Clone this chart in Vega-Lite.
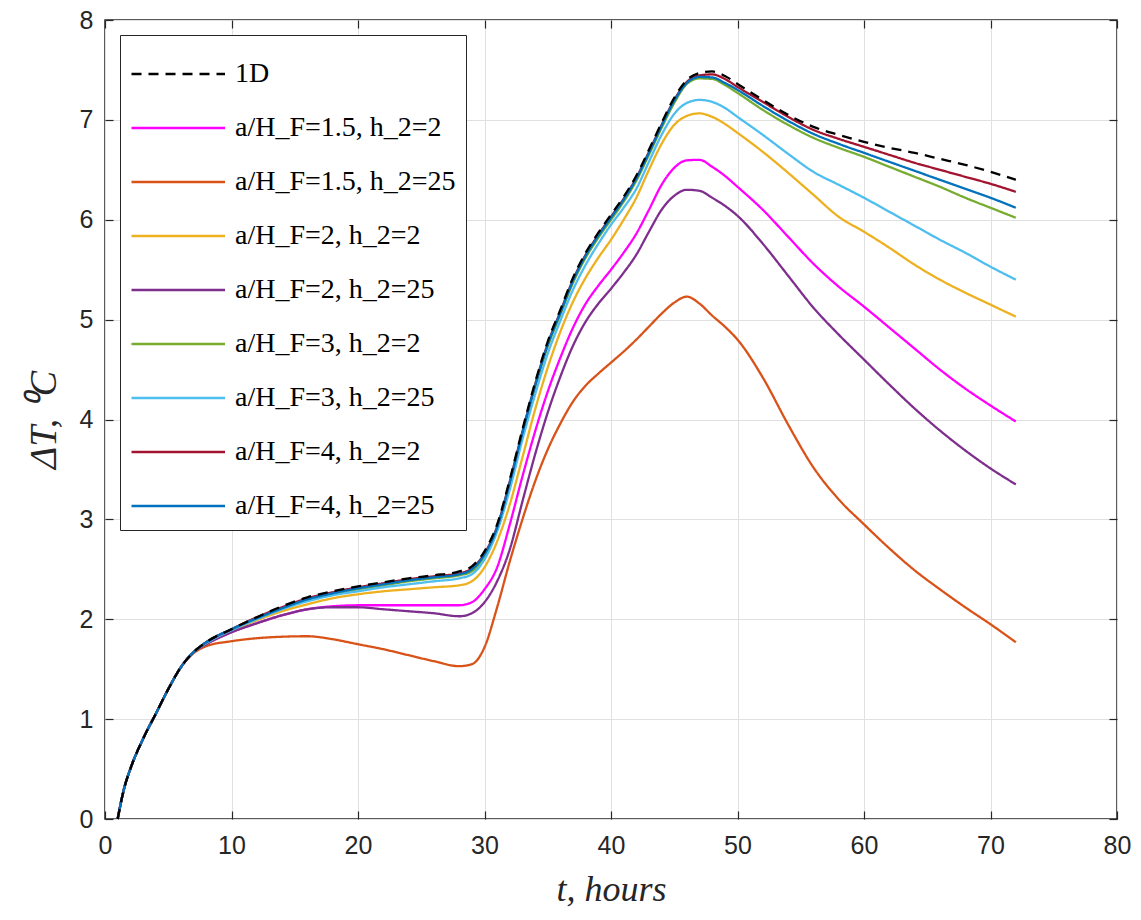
{
  "$schema": "https://vega.github.io/schema/vega-lite/v6.json",
  "width": 1012,
  "height": 799,
  "autosize": {"type": "none"},
  "padding": {"left": 105, "top": 20, "right": 24, "bottom": 101},
  "background": "white",
  "config": {
    "view": {"stroke": "#262626", "strokeWidth": 1.5},
    "axis": {
      "labelFont": "Liberation Sans", "labelFontSize": 25, "labelColor": "#262626", "labelFlush": false,
      "titleFont": "Liberation Serif", "titleFontStyle": "italic", "titleFontWeight": "normal", "titleColor": "#262626",
      "gridColor": "#e0e0e0", "gridWidth": 1, "domain": false,
      "tickColor": "#262626", "tickSize": -8, "tickWidth": 1.2
    }
  },
  "data": {"values": [
    {"t":1,"s0":0,"s1":0,"s2":0,"s3":0,"s4":0,"s5":0,"s6":0,"s7":0,"s8":0},
    {"t":1.5,"s0":0.3,"s1":0.3,"s2":0.3,"s3":0.3,"s4":0.3,"s5":0.3,"s6":0.3,"s7":0.3,"s8":0.3},
    {"t":2,"s0":0.5,"s1":0.5,"s2":0.5,"s3":0.5,"s4":0.5,"s5":0.5,"s6":0.5,"s7":0.5,"s8":0.5},
    {"t":3,"s0":0.8,"s1":0.8,"s2":0.8,"s3":0.8,"s4":0.8,"s5":0.8,"s6":0.8,"s7":0.8,"s8":0.8},
    {"t":4,"s0":1.05,"s1":1.05,"s2":1.05,"s3":1.05,"s4":1.05,"s5":1.05,"s6":1.05,"s7":1.05,"s8":1.05},
    {"t":5,"s0":1.3,"s1":1.3,"s2":1.3,"s3":1.3,"s4":1.3,"s5":1.3,"s6":1.3,"s7":1.3,"s8":1.3},
    {"t":6,"s0":1.52,"s1":1.52,"s2":1.52,"s3":1.52,"s4":1.52,"s5":1.52,"s6":1.52,"s7":1.52,"s8":1.52},
    {"t":7,"s0":1.67,"s1":1.67,"s2":1.66,"s3":1.67,"s4":1.67,"s5":1.67,"s6":1.67,"s7":1.67,"s8":1.67},
    {"t":8,"s0":1.77,"s1":1.75,"s2":1.73,"s3":1.76,"s4":1.75,"s5":1.77,"s6":1.76,"s7":1.77,"s8":1.77},
    {"t":10,"s0":1.9,"s1":1.87,"s2":1.78,"s3":1.88,"s4":1.87,"s5":1.9,"s6":1.89,"s7":1.9,"s8":1.9},
    {"t":12,"s0":2.02,"s1":1.96,"s2":1.81,"s3":1.99,"s4":1.96,"s5":2.01,"s6":2.0,"s7":2.02,"s8":2.01},
    {"t":14,"s0":2.13,"s1":2.04,"s2":1.825,"s3":2.08,"s4":2.04,"s5":2.11,"s6":2.1,"s7":2.12,"s8":2.11},
    {"t":16,"s0":2.22,"s1":2.1,"s2":1.83,"s3":2.15,"s4":2.1,"s5":2.19,"s6":2.18,"s7":2.21,"s8":2.2},
    {"t":18,"s0":2.28,"s1":2.13,"s2":1.8,"s3":2.21,"s4":2.12,"s5":2.25,"s6":2.24,"s7":2.27,"s8":2.26},
    {"t":20,"s0":2.33,"s1":2.14,"s2":1.75,"s3":2.25,"s4":2.12,"s5":2.3,"s6":2.28,"s7":2.32,"s8":2.31},
    {"t":22,"s0":2.37,"s1":2.14,"s2":1.7,"s3":2.28,"s4":2.1,"s5":2.34,"s6":2.32,"s7":2.36,"s8":2.35},
    {"t":24,"s0":2.41,"s1":2.14,"s2":1.64,"s3":2.3,"s4":2.08,"s5":2.38,"s6":2.35,"s7":2.4,"s8":2.39},
    {"t":26,"s0":2.44,"s1":2.14,"s2":1.58,"s3":2.32,"s4":2.06,"s5":2.41,"s6":2.38,"s7":2.43,"s8":2.42},
    {"t":28,"s0":2.48,"s1":2.14,"s2":1.53,"s3":2.34,"s4":2.03,"s5":2.44,"s6":2.41,"s7":2.46,"s8":2.45},
    {"t":29,"s0":2.53,"s1":2.17,"s2":1.55,"s3":2.38,"s4":2.06,"s5":2.48,"s6":2.45,"s7":2.51,"s8":2.5},
    {"t":30,"s0":2.68,"s1":2.3,"s2":1.72,"s3":2.52,"s4":2.17,"s5":2.63,"s6":2.6,"s7":2.66,"s8":2.65},
    {"t":31,"s0":2.95,"s1":2.52,"s2":2.12,"s3":2.78,"s4":2.38,"s5":2.9,"s6":2.88,"s7":2.93,"s8":2.92},
    {"t":32,"s0":3.4,"s1":2.95,"s2":2.58,"s3":3.15,"s4":2.7,"s5":3.35,"s6":3.3,"s7":3.38,"s8":3.37},
    {"t":33,"s0":3.9,"s1":3.43,"s2":3.0,"s3":3.62,"s4":3.18,"s5":3.85,"s6":3.8,"s7":3.88,"s8":3.87},
    {"t":34,"s0":4.37,"s1":3.88,"s2":3.38,"s3":4.1,"s4":3.65,"s5":4.32,"s6":4.25,"s7":4.35,"s8":4.34},
    {"t":35,"s0":4.78,"s1":4.28,"s2":3.7,"s3":4.52,"s4":4.07,"s5":4.73,"s6":4.66,"s7":4.76,"s8":4.75},
    {"t":36,"s0":5.1,"s1":4.62,"s2":3.96,"s3":4.88,"s4":4.43,"s5":5.05,"s6":4.99,"s7":5.08,"s8":5.07},
    {"t":37,"s0":5.42,"s1":4.92,"s2":4.18,"s3":5.18,"s4":4.74,"s5":5.37,"s6":5.3,"s7":5.4,"s8":5.39},
    {"t":38,"s0":5.67,"s1":5.16,"s2":4.34,"s3":5.42,"s4":4.98,"s5":5.62,"s6":5.55,"s7":5.65,"s8":5.64},
    {"t":39,"s0":5.87,"s1":5.34,"s2":4.46,"s3":5.62,"s4":5.16,"s5":5.82,"s6":5.76,"s7":5.85,"s8":5.84},
    {"t":40,"s0":6.05,"s1":5.5,"s2":4.57,"s3":5.8,"s4":5.31,"s5":6.0,"s6":5.95,"s7":6.03,"s8":6.02},
    {"t":41,"s0":6.23,"s1":5.67,"s2":4.68,"s3":6.0,"s4":5.47,"s5":6.18,"s6":6.12,"s7":6.21,"s8":6.2},
    {"t":42,"s0":6.44,"s1":5.86,"s2":4.8,"s3":6.22,"s4":5.65,"s5":6.39,"s6":6.31,"s7":6.42,"s8":6.41},
    {"t":43,"s0":6.7,"s1":6.1,"s2":4.93,"s3":6.5,"s4":5.88,"s5":6.65,"s6":6.58,"s7":6.68,"s8":6.67},
    {"t":44,"s0":6.97,"s1":6.35,"s2":5.06,"s3":6.76,"s4":6.1,"s5":6.92,"s6":6.85,"s7":6.95,"s8":6.94},
    {"t":45,"s0":7.22,"s1":6.52,"s2":5.17,"s3":6.95,"s4":6.24,"s5":7.17,"s6":7.06,"s7":7.2,"s8":7.19},
    {"t":46,"s0":7.4,"s1":6.595,"s2":5.23,"s3":7.04,"s4":6.3,"s5":7.36,"s6":7.17,"s7":7.38,"s8":7.37},
    {"t":47,"s0":7.47,"s1":6.6,"s2":5.16,"s3":7.065,"s4":6.29,"s5":7.415,"s6":7.2,"s7":7.445,"s8":7.43},
    {"t":48,"s0":7.485,"s1":6.53,"s2":5.04,"s3":7.03,"s4":6.22,"s5":7.41,"s6":7.18,"s7":7.455,"s8":7.425},
    {"t":49,"s0":7.44,"s1":6.44,"s2":4.93,"s3":6.96,"s4":6.14,"s5":7.35,"s6":7.12,"s7":7.41,"s8":7.37},
    {"t":50,"s0":7.36,"s1":6.33,"s2":4.8,"s3":6.87,"s4":6.04,"s5":7.27,"s6":7.03,"s7":7.33,"s8":7.3},
    {"t":52,"s0":7.2,"s1":6.1,"s2":4.42,"s3":6.68,"s4":5.76,"s5":7.1,"s6":6.85,"s7":7.18,"s8":7.14},
    {"t":54,"s0":7.05,"s1":5.83,"s2":3.95,"s3":6.47,"s4":5.44,"s5":6.95,"s6":6.66,"s7":7.03,"s8":6.99},
    {"t":56,"s0":6.93,"s1":5.56,"s2":3.52,"s3":6.25,"s4":5.12,"s5":6.82,"s6":6.48,"s7":6.9,"s8":6.86},
    {"t":58,"s0":6.85,"s1":5.33,"s2":3.2,"s3":6.03,"s4":4.85,"s5":6.72,"s6":6.35,"s7":6.81,"s8":6.76},
    {"t":60,"s0":6.78,"s1":5.13,"s2":2.95,"s3":5.88,"s4":4.6,"s5":6.63,"s6":6.22,"s7":6.73,"s8":6.67},
    {"t":62,"s0":6.72,"s1":4.92,"s2":2.71,"s3":5.72,"s4":4.35,"s5":6.53,"s6":6.08,"s7":6.65,"s8":6.58},
    {"t":64,"s0":6.67,"s1":4.71,"s2":2.49,"s3":5.55,"s4":4.11,"s5":6.43,"s6":5.94,"s7":6.57,"s8":6.49},
    {"t":66,"s0":6.61,"s1":4.5,"s2":2.3,"s3":5.4,"s4":3.89,"s5":6.33,"s6":5.8,"s7":6.5,"s8":6.4},
    {"t":68,"s0":6.55,"s1":4.31,"s2":2.12,"s3":5.27,"s4":3.69,"s5":6.22,"s6":5.67,"s7":6.43,"s8":6.31},
    {"t":70,"s0":6.48,"s1":4.14,"s2":1.95,"s3":5.15,"s4":3.51,"s5":6.12,"s6":5.53,"s7":6.36,"s8":6.22},
    {"t":72,"s0":6.4,"s1":3.98,"s2":1.77,"s3":5.03,"s4":3.35,"s5":6.02,"s6":5.4,"s7":6.28,"s8":6.12}
  ]},
  "transform": [
    {"fold": ["s1","s2","s3","s4","s5","s6","s7","s8","s0"], "as": ["s","v"]}
  ],
  "layer": [
    {
      "mark": {"type": "line", "interpolate": "monotone", "strokeWidth": 2.3},
      "encoding": {
        "x": {"field": "t", "type": "quantitative",
          "scale": {"domain": [0, 80], "nice": false},
          "axis": {"values": [0,10,20,30,40,50,60,70,80], "title": "t, hours", "titleFontSize": 36, "titlePadding": 14, "labelPadding": 22, "grid": true}},
        "y": {"field": "v", "type": "quantitative",
          "scale": {"domain": [0, 8], "nice": false},
          "axis": {"values": [0,1,2,3,4,5,6,7,8], "title": "ΔT, ⁰C", "titleFontSize": 38, "titlePadding": 16, "labelPadding": 20, "grid": true}},
        "color": {"field": "s", "type": "nominal",
          "scale": {"domain": ["s0","s1","s2","s3","s4","s5","s6","s7","s8"],
            "range": ["#000000","#FF00FF","#D95319","#EDB120","#7E2F8E","#77AC30","#4DBEEE","#A2142F","#0072BD"]},
          "legend": {
            "title": null, "orient": "top-left", "offset": 15,
            "fillColor": "white", "strokeColor": "#262626", "padding": 10,
            "symbolType": "M-1,0H2.4", "symbolSize": 3025, "symbolStrokeWidth": 2.5,
            "labelFont": "Liberation Serif", "labelFontSize": 28, "labelColor": "#000000", "labelLimit": 400, "labelOffset": 47,
            "rowPadding": 11,
            "labelExpr": "datum.label == 's0' ? '1D' : datum.label == 's1' ? 'a/H_F=1.5, h_2=2' : datum.label == 's2' ? 'a/H_F=1.5, h_2=25' : datum.label == 's3' ? 'a/H_F=2, h_2=2' : datum.label == 's4' ? 'a/H_F=2, h_2=25' : datum.label == 's5' ? 'a/H_F=3, h_2=2' : datum.label == 's6' ? 'a/H_F=3, h_2=25' : datum.label == 's7' ? 'a/H_F=4, h_2=2' : 'a/H_F=4, h_2=25'"
          }},
        "strokeDash": {"field": "s", "type": "nominal",
          "scale": {"domain": ["s0","s1","s2","s3","s4","s5","s6","s7","s8"],
            "range": [[10,7],[1,0],[1,0],[1,0],[1,0],[1,0],[1,0],[1,0],[1,0]]},
          "legend": null}
      }
    },
    {
      "mark": {"type": "line", "opacity": 0},
      "encoding": {
        "x": {"field": "t", "type": "quantitative",
          "scale": {"domain": [0, 80], "nice": false},
          "axis": {"orient": "top", "values": [0,10,20,30,40,50,60,70,80], "labels": false, "title": null, "grid": false}},
        "y": {"field": "v", "type": "quantitative",
          "scale": {"domain": [0, 8], "nice": false},
          "axis": {"orient": "right", "values": [0,1,2,3,4,5,6,7,8], "labels": false, "title": null, "grid": false}},
        "detail": {"field": "s"}
      }
    }
  ],
  "resolve": {"axis": {"x": "independent", "y": "independent"}}
}
